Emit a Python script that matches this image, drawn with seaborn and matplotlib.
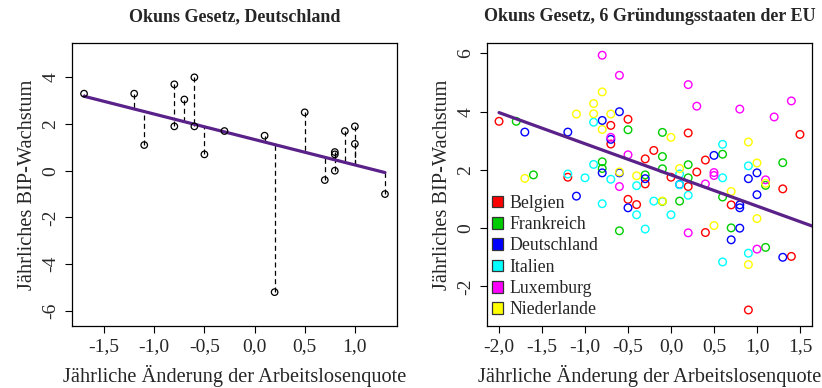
import numpy as np
import pandas as pd
import matplotlib
matplotlib.use("Agg")
import matplotlib.pyplot as plt
from matplotlib.patches import Patch
import seaborn as sns

# Veränderung der Arbeitslosenquote (x) und BIP-Wachstum (y) in Prozentpunkten
de_x = [-1.7, -1.2, -1.1, -0.8, -0.8, -0.7, -0.6, -0.6, -0.5, -0.3, 0.1,
        0.2, 0.5, 0.7, 0.8, 0.8, 0.8, 0.9, 1.0, 1.0, 1.3]
de_y = [3.3, 3.3, 1.1, 3.7, 1.9, 3.05, 4.0, 1.9, 0.7, 1.7, 1.5,
        -5.2, 2.5, -0.4, 0.8, 0.7, 0.0, 1.7, 1.9, 1.15, -1.0]

be_x = [-2.0, -1.2, -0.7, -0.7, -0.5, -0.5, -0.4, -0.3, -0.3, -0.2, 0.0,
        0.2, 0.2, 0.3, 0.4, 0.4, 0.7, 0.9, 1.3, 1.4, 1.5]
be_y = [3.67, 1.75, 3.53, 2.89, 3.74, 0.99, 0.81, 2.38, 1.52, 2.67, 1.75,
        3.27, 1.43, 1.93, 2.34, -0.15, 0.80, -2.81, 1.35, -0.97, 3.22]

fr_x = [-1.8, -1.6, -0.8, -0.8, -0.6, -0.5, -0.3, -0.1, -0.1, -0.1, -0.1,
        0.1, 0.2, 0.2, 0.6, 0.6, 0.7, 1.1, 1.1, 1.3]
fr_y = [3.67, 1.83, 2.28, 2.05, -0.09, 3.38, 1.83, 3.29, 2.46, 2.04, 0.92,
        0.93, 2.18, 1.73, 2.54, 1.07, 0.01, 1.47, -0.66, 2.25]

it_x = [-1.2, -1.0, -0.9, -0.9, -0.8, -0.7, -0.4, -0.4, -0.3, -0.2, 0.0,
        0.1, 0.1, 0.2, 0.6, 0.6, 0.6, 0.9, 0.9]
it_y = [1.86, 1.73, 3.64, 2.19, 0.84, 1.68, 1.46, 0.46, -0.03, 0.93, 0.46,
        1.86, 1.49, 1.13, 2.88, 1.73, -1.16, 2.14, -0.86]

lu_x = [-0.8, -0.7, -0.6, -0.6, -0.5, 0.2, 0.2, 0.3, 0.4, 0.5, 0.5,
        0.8, 1.0, 1.1, 1.2, 1.4]
lu_y = [5.94, 3.12, 5.25, 1.43, 2.52, 4.93, -0.16, 4.19, 1.52, 1.91, 1.81,
        4.09, -0.72, 1.66, 3.82, 4.37]

nl_x = [-1.7, -1.1, -0.9, -0.9, -0.8, -0.8, -0.7, -0.6, -0.4, -0.1, 0.0,
        0.1, 0.5, 0.7, 0.9, 0.9, 1.0, 1.0, 1.1]
nl_y = [1.71, 3.92, 4.28, 3.93, 4.68, 3.39, 3.92, 1.93, 1.80, 0.93, 3.12,
        2.05, 0.09, 1.26, 2.96, -1.25, 2.24, 0.33, 1.54]

countries = ["Belgien", "Frankreich", "Deutschland", "Italien", "Luxemburg", "Niederlande"]
country_colors = ["#FF0000", "#00CD00", "#0000FF", "#00FFFF", "#FF00FF", "#FFFF00"]

# Koeffizienten der Gerade für die sechs Gründungsstaaten (Achsenabschnitt, Steigung)
eu_intercept = 1.83
eu_slope = -1.07
eu_line_x = [-2.0, 2.0]

left_xticks = [-1.5, -1.0, -0.5, 0.0, 0.5, 1.0]
left_yticks = [-6, -4, -2, 0, 2, 4]
right_xticks = [-2.0, -1.5, -1.0, -0.5, 0.0, 0.5, 1.0, 1.5]
right_yticks = [-2, 0, 2, 4, 6]

x_label = "Jährliche Änderung der Arbeitslosenquote"
y_label = "Jährliches BIP-Wachstum"
title_left = "Okuns Gesetz, Deutschland"
title_right = "Okuns Gesetz, 6 Gründungsstaaten der EU"

sns.set_style("white")
plt.rcParams["font.family"] = ["Liberation Serif", "DejaVu Serif"]
plt.rcParams["axes.unicode_minus"] = False
plt.rcParams["lines.scale_dashes"] = False

LINE_COLOR = "#5A2189"


def de_fmt(v, decimals):
    return f"{v:.{decimals}f}".replace(".", ",")


def style_axes(ax, xticks, yticks, xdec, ydec):
    ax.set_xticks(xticks)
    ax.set_xticklabels([de_fmt(v, xdec) for v in xticks])
    ax.set_yticks(yticks)
    ax.set_yticklabels([de_fmt(v, ydec) for v in yticks], rotation=90, va="center")
    ax.tick_params(axis="both", direction="out", length=5, width=0.8, color="black",
                   labelsize=14, bottom=True, left=True)
    ax.tick_params(axis="x", pad=3.8)
    ax.tick_params(axis="y", pad=4)
    for s in ax.spines.values():
        s.set_color("black")
        s.set_linewidth(0.9)
    ax.set_xlabel(x_label, fontsize=14.7, labelpad=7)
    ax.set_ylabel(y_label, fontsize=14.7, labelpad=4)


fig = plt.figure(figsize=(8.22, 3.88), dpi=100)
ax1 = fig.add_axes([72 / 822, 62 / 388, 325 / 822, 283 / 388])
ax2 = fig.add_axes([487 / 822, 62 / 388, 325 / 822, 283 / 388])

# --- Deutschland: Streudiagramm mit Regressionsgerade und Residuen ---
de = pd.DataFrame({"x": de_x, "y": de_y})
slope, intercept = np.polyfit(de["x"], de["y"], 1)
fitted = intercept + slope * de["x"]
ax1.vlines(de["x"], de["y"], fitted, colors="black", linewidth=0.9,
           linestyles=[(0, (3.6, 2.4))], zorder=2)
sns.regplot(data=de, x="x", y="y", ax=ax1, scatter=False, ci=None, truncate=True,
            line_kws={"color": LINE_COLOR, "linewidth": 2.3, "zorder": 3})
sns.scatterplot(data=de, x="x", y="y", ax=ax1, s=22, marker="o",
                facecolor="none", edgecolor="black", linewidth=0.9, zorder=4)
ax1.set_xlim(-1.82, 1.42)
ax1.set_ylim(-6.65, 5.47)
style_axes(ax1, left_xticks, left_yticks, 1, 0)
ax1.set_title(title_left, fontsize=13, fontweight="bold", pad=16)

# --- Sechs Gründungsstaaten ---
series = {
    "Belgien": (be_x, be_y),
    "Frankreich": (fr_x, fr_y),
    "Deutschland": (de_x, de_y),
    "Italien": (it_x, it_y),
    "Luxemburg": (lu_x, lu_y),
    "Niederlande": (nl_x, nl_y),
}
eu = pd.concat([pd.DataFrame({"x": xs, "y": ys, "Land": name})
                for name, (xs, ys) in series.items()], ignore_index=True)

for name, color in zip(countries, country_colors):
    sub = eu[eu["Land"] == name]
    sns.scatterplot(data=sub, x="x", y="y", ax=ax2, s=30, marker="o",
                    facecolor="none", edgecolor=color, linewidth=1.0, zorder=3)

line = pd.DataFrame({"x": eu_line_x})
line["y"] = eu_intercept + eu_slope * line["x"]
sns.lineplot(data=line, x="x", y="y", ax=ax2, color=LINE_COLOR, linewidth=2.3, zorder=4)
ax2.set_xlim(-2.14, 1.64)
ax2.set_ylim(-3.36, 6.36)
style_axes(ax2, right_xticks, right_yticks, 1, 0)
ax2.set_title(title_right, fontsize=13, fontweight="bold", pad=16)

handles = [Patch(facecolor=c, edgecolor="#333333", linewidth=0.9) for c in country_colors]
ax2.legend(handles, countries, loc="upper left", bbox_to_anchor=(0.016, 0.464),
           frameon=False, fontsize=12.8, handlelength=0.62, handleheight=0.62,
           handletextpad=0.35, labelspacing=0.245, borderaxespad=0, borderpad=0)

fig.savefig("out.png", dpi=100)
